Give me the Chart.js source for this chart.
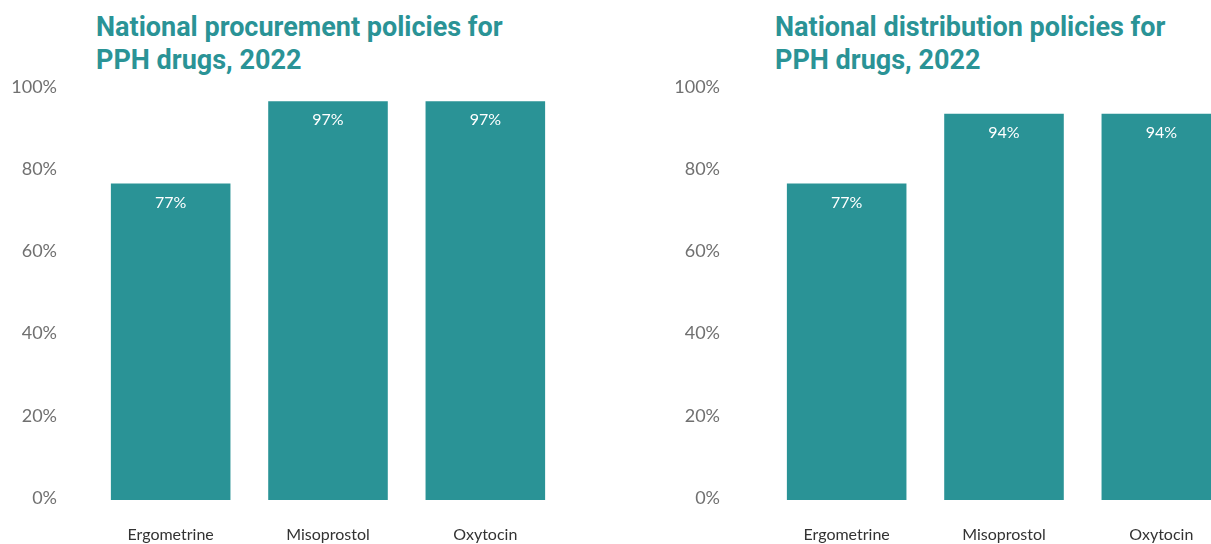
<!DOCTYPE html>
<html>
<head>
<meta charset="utf-8">
<script src="https://cdn.jsdelivr.net/npm/chart.js@4/dist/chart.umd.min.js"></script>
<style>
    html, body { margin: 0; padding: 0; background: #fff; overflow: hidden; }
    body { width: 1211px; height: 544px; position: relative; }
    .title {
        position: absolute;
        font-family: Roboto, sans-serif;
        font-weight: bold;
        font-size: 27px;
        line-height: 33px;
        color: #2a9396;
        white-space: nowrap;
    }
    .chart-box { position: absolute; top: 75px; width: 600px; height: 469px; }
</style>
</head>
<body>
<div class="title" style="left:96px; top:11px;">National procurement policies for<br>PPH drugs, 2022</div>
<div class="title" style="left:775px; top:11px;">National distribution policies for<br>PPH drugs, 2022</div>
<div class="chart-box" style="left:0px;"><canvas id="procurementChart"></canvas></div>
<div class="chart-box" style="left:676px;"><canvas id="distributionChart"></canvas></div>
<script>
const drugs = ["Ergometrine", "Misoprostol", "Oxytocin"];
const procurementValues = [77, 97, 97];
const distributionValues = [77, 94, 94];
const yTickValues = [0, 20, 40, 60, 80, 100];

const barColor = "#2a9396";

// draws the "77%" style labels inside the top of each bar
const barLabels = {
    id: "barLabels",
    afterDatasetsDraw(chart) {
        const ctx = chart.ctx;
        const meta = chart.getDatasetMeta(0);
        ctx.save();
        ctx.fillStyle = "#ffffff";
        ctx.font = "16px Lato, sans-serif";
        ctx.textAlign = "center";
        ctx.textBaseline = "middle";
        meta.data.forEach((bar, i) => {
            ctx.fillText(chart.data.datasets[0].data[i] + "%", bar.x, bar.y + 19);
        });
        ctx.restore();
    }
};

function makeChart(id, values, tickPad) {
    return new Chart(document.getElementById(id), {
        type: "bar",
        data: {
            labels: drugs,
            datasets: [{
                data: values,
                backgroundColor: barColor,
                borderWidth: 0,
                barPercentage: 0.76,
                categoryPercentage: 1
            }]
        },
        options: {
            responsive: true,
            maintainAspectRatio: false,
            animation: false,
            layout: { padding: { top: 14, right: 36, bottom: 0, left: 0 } },
            plugins: {
                legend: { display: false },
                tooltip: { enabled: false }
            },
            scales: {
                x: {
                    grid: { display: false, drawTicks: false },
                    border: { display: false },
                    ticks: {
                        color: "#333333",
                        font: { family: "Lato, sans-serif", size: 16 },
                        padding: 25
                    },
                    afterFit: s => {
                        s.height = 44;
                        s.paddingLeft = 0;
                        s.paddingRight = 0;
                    }
                },
                y: {
                    min: 0,
                    max: 100,
                    grid: { display: false, drawTicks: false },
                    border: { display: false },
                    afterBuildTicks: s => { s.ticks = yTickValues.map(v => ({ value: v })); },
                    ticks: {
                        color: "#707070",
                        font: { family: "Lato, sans-serif", size: 18 },
                        padding: tickPad,
                        labelOffset: -2,
                        callback: v => v + "%"
                    },
                    afterFit: s => {
                        s.width = 92;
                        s.paddingTop = 0;
                        s.paddingBottom = 0;
                    }
                }
            }
        },
        plugins: [barLabels]
    });
}

makeChart("procurementChart", procurementValues, 35);
makeChart("distributionChart", distributionValues, 48);
</script>
</body>
</html>
